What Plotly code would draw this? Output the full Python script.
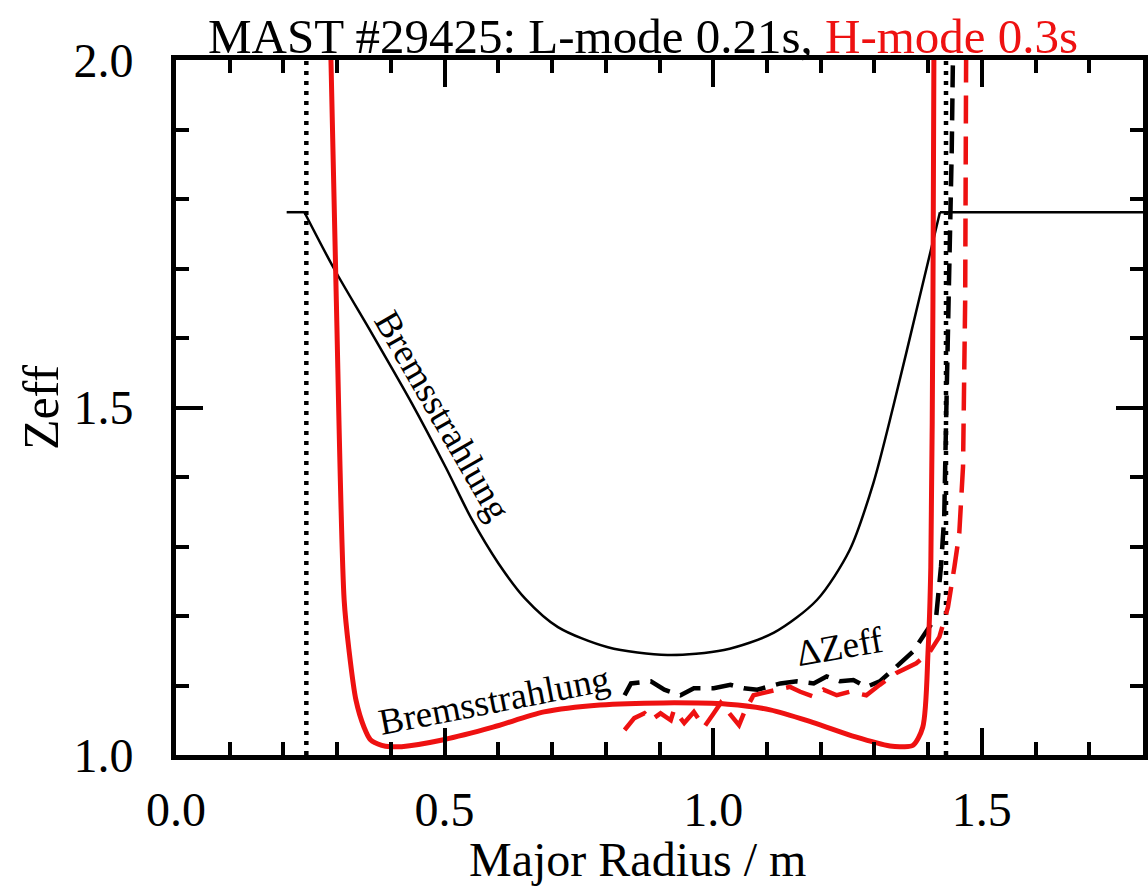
import plotly.graph_objects as go

# ---- data ----
brems_L_x = [0.206, 0.239, 0.294, 0.365, 0.439, 0.502, 0.550, 0.600, 0.650, 0.711, 0.804,
             0.915, 1.020, 1.113, 1.193, 1.254, 1.298, 1.335, 1.383, 1.422, 1.80]
brems_L_z = [1.781, 1.781, 1.700, 1.606, 1.506, 1.414, 1.340, 1.276, 1.225, 1.184, 1.155,
             1.144, 1.151, 1.176, 1.223, 1.295, 1.391, 1.501, 1.655, 1.781, 1.781]

brems_H_x = [0.287, 0.298, 0.313, 0.322, 0.335, 0.350, 0.362, 0.383, 0.400, 0.420, 0.498,
             0.590, 0.685, 0.789, 0.907, 1.027, 1.106, 1.185, 1.265, 1.329, 1.353, 1.372,
             1.390, 1.400, 1.405, 1.409, 1.411]
brems_H_z = [2.05, 1.669, 1.223, 1.151, 1.079, 1.040, 1.022, 1.014, 1.012, 1.012, 1.022,
             1.040, 1.062, 1.072, 1.075, 1.073, 1.065, 1.047, 1.026, 1.013, 1.012, 1.014,
             1.040, 1.151, 1.270, 1.655, 2.05]

dz_L_x = [0.835, 0.847, 0.884, 0.909, 0.939, 0.964, 1.001, 1.032, 1.057, 1.082, 1.125,
          1.156, 1.187, 1.211, 1.236, 1.261, 1.285, 1.310, 1.341, 1.372, 1.396, 1.415,
          1.424, 1.430, 1.433, 1.437, 1.444, 1.447]
dz_L_z = [1.086, 1.103, 1.106, 1.094, 1.086, 1.096, 1.096, 1.101, 1.096, 1.094, 1.103,
          1.106, 1.103, 1.113, 1.106, 1.108, 1.098, 1.106, 1.127, 1.149, 1.177, 1.199,
          1.271, 1.343, 1.463, 1.607, 1.871, 2.05]

dz_H_x = [0.835, 0.853, 0.872, 0.884, 0.902, 0.921, 0.927, 0.946, 0.964, 0.983, 1.001,
          1.014, 1.032, 1.048, 1.057, 1.075, 1.119, 1.143, 1.162, 1.187, 1.205, 1.230,
          1.254, 1.285, 1.310, 1.341, 1.378, 1.402, 1.421, 1.437, 1.449, 1.458, 1.465,
          1.467, 1.469, 1.471]
dz_H_z = [1.036, 1.053, 1.060, 1.050, 1.060, 1.050, 1.065, 1.046, 1.062, 1.040, 1.060,
          1.075, 1.058, 1.043, 1.060, 1.086, 1.094, 1.098, 1.091, 1.084, 1.094, 1.086,
          1.091, 1.086, 1.101, 1.118, 1.132, 1.147, 1.170, 1.213, 1.271, 1.319, 1.415,
          1.511, 1.655, 2.05]

sep_x = [0.2426, 1.4333]          # vertical dotted lines
y_span = [1.0, 2.0]

x_ticks = [0.0, 0.5, 1.0, 1.5]
y_ticks = [1.0, 1.5, 2.0]

FONT = "Liberation Serif, Times New Roman, serif"
RED = "#ee1111"

fig = go.Figure()

for xv in sep_x:
    fig.add_trace(go.Scatter(x=[xv, xv], y=y_span, mode="lines",
                             line=dict(color="black", width=4.5, dash="4px,6px"),
                             showlegend=False, hoverinfo="skip"))

# L-mode bremsstrahlung: flat ends drawn straight, profile smoothed
fig.add_trace(go.Scatter(x=brems_L_x[:2], y=brems_L_z[:2], mode="lines",
                         line=dict(color="black", width=2.5), showlegend=False))
fig.add_trace(go.Scatter(x=brems_L_x[1:-1], y=brems_L_z[1:-1], mode="lines",
                         line=dict(color="black", width=2.5, shape="spline", smoothing=0.8),
                         showlegend=False))
fig.add_trace(go.Scatter(x=brems_L_x[-2:], y=brems_L_z[-2:], mode="lines",
                         line=dict(color="black", width=2.5), showlegend=False))

fig.add_trace(go.Scatter(x=dz_L_x, y=dz_L_z, mode="lines",
                         line=dict(color="black", width=4.5, dash="22px,11px"),
                         showlegend=False))
fig.add_trace(go.Scatter(x=dz_H_x, y=dz_H_z, mode="lines",
                         line=dict(color=RED, width=4.5, dash="28px,13px"),
                         showlegend=False))
fig.add_trace(go.Scatter(x=brems_H_x, y=brems_H_z, mode="lines",
                         line=dict(color=RED, width=5, shape="spline", smoothing=0.8),
                         showlegend=False))

axis_common = dict(
    showline=True, linewidth=5, linecolor="black", mirror="ticks",
    ticks="inside", ticklen=27, tickwidth=4, tickcolor="black",
    showgrid=False, zeroline=False,
    tickfont=dict(family=FONT, size=48, color="black"),
)

fig.update_xaxes(range=[0, 1.8], tickvals=x_ticks, tickformat=".1f",
                 minor=dict(ticks="inside", ticklen=13, tickwidth=4, dtick=0.1,
                            tickcolor="black", showgrid=False),
                 ticklabelstandoff=8, **axis_common)
fig.update_yaxes(range=[1, 2], tickvals=y_ticks, tickformat=".1f",
                 minor=dict(ticks="inside", ticklen=13, tickwidth=4, dtick=0.1,
                            tickcolor="black", showgrid=False),
                 ticklabelstandoff=28, **axis_common)

annots = [
    dict(text="MAST #29425: L-mode 0.21s, <span style='color:%s'>H-mode 0.3s</span>" % RED,
         xref="paper", yref="paper", x=0.4825, y=1.0, xanchor="center", yanchor="bottom",
         yshift=-6, showarrow=False, font=dict(family=FONT, size=49, color="black")),
    dict(text="Major Radius / m", xref="paper", yref="paper", x=0.477, y=0,
         xanchor="center", yanchor="top", yshift=-76, showarrow=False,
         font=dict(family=FONT, size=48, color="black")),
    dict(text="Zeff", xref="paper", yref="paper", x=-0.14, y=0.5, textangle=-90,
         xanchor="center", yanchor="middle", showarrow=False,
         font=dict(family=FONT, size=50, color="black")),
    dict(text="Bremsstrahlung", x=0.497, y=1.489, textangle=60, showarrow=False,
         xanchor="center", yanchor="middle",
         font=dict(family=FONT, size=37, color="black")),
    dict(text="Bremsstrahlung", x=0.591, y=1.078, textangle=-11, showarrow=False,
         xanchor="center", yanchor="middle",
         font=dict(family=FONT, size=37, color="black")),
    dict(text="\u0394Zeff", x=1.235, y=1.156, textangle=-10, showarrow=False,
         xanchor="center", yanchor="middle",
         font=dict(family=FONT, size=37, color="black")),
]
fig.update_layout(
    width=1148, height=887,
    margin=dict(l=176, r=0, t=60, b=132),
    paper_bgcolor="white", plot_bgcolor="white",
    annotations=annots, showlegend=False,
)

fig.write_html("out.html")
